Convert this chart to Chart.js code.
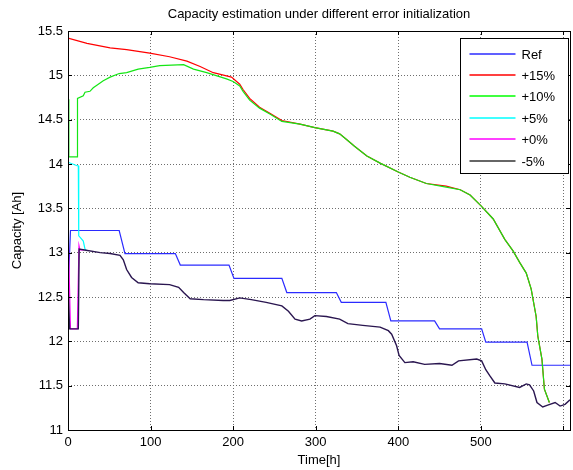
<!DOCTYPE html>
<html>
<head>
<meta charset="utf-8">
<script src="https://cdn.jsdelivr.net/npm/chart.js@4.4.1/dist/chart.umd.min.js"></script>
<style>
  html, body { margin: 0; padding: 0; background: #fff; }
  #wrap { width: 573px; height: 470px; }
</style>
</head>
<body>
<div id="wrap"><canvas id="capChart" width="573" height="470"></canvas></div>
<script>
// time axis [h] and capacity estimates [Ah] for each initialization
const refTime = [0, 3, 62, 69, 130, 136, 195, 201, 259, 265, 325, 331, 385, 391, 444, 450, 501, 506, 556, 562, 608];
const refCap  = [12.55, 13.25, 13.25, 12.99, 12.99, 12.86, 12.86, 12.71, 12.71, 12.55, 12.55, 12.44, 12.44, 12.23, 12.23, 12.14, 12.14, 11.99, 11.99, 11.73, 11.73];

const p15Time = [0, 23, 51, 71, 99, 123, 144, 160, 176, 198, 208, 212, 220, 232, 245, 259, 281, 299, 321, 329, 337, 347, 362, 378, 400, 414, 434, 458, 475, 487, 500, 515, 529, 539, 547, 555, 561, 567, 569, 574, 577, 583];
const p15Cap  = [15.42, 15.36, 15.31, 15.29, 15.25, 15.21, 15.16, 15.10, 15.03, 14.98, 14.90, 14.84, 14.74, 14.64, 14.57, 14.49, 14.45, 14.41, 14.37, 14.34, 14.28, 14.20, 14.09, 14.01, 13.91, 13.85, 13.78, 13.75, 13.71, 13.65, 13.53, 13.38, 13.15, 13.02, 12.89, 12.77, 12.59, 12.28, 12.06, 11.80, 11.46, 11.31];

const p10Time = [0, 1, 11, 11.5, 18.5, 20.6, 26.6, 30.6, 36.7, 42.7, 51, 62, 71, 85, 99, 111, 140, 152, 168, 192, 200, 208, 212, 220, 232, 245, 259, 281, 299, 321, 329, 337, 347, 362, 378, 400, 414, 434, 458, 475, 487, 500, 515, 529, 539, 547, 555, 561, 567, 569, 574, 577, 583];
const p10Cap  = [14.73, 14.08, 14.08, 14.74, 14.77, 14.81, 14.82, 14.86, 14.90, 14.94, 14.98, 15.02, 15.03, 15.07, 15.09, 15.11, 15.12, 15.07, 15.03, 14.96, 14.93, 14.88, 14.82, 14.72, 14.63, 14.56, 14.48, 14.45, 14.41, 14.37, 14.34, 14.28, 14.20, 14.09, 14.01, 13.91, 13.85, 13.78, 13.74, 13.71, 13.65, 13.53, 13.38, 13.15, 13.02, 12.89, 12.77, 12.59, 12.28, 12.06, 11.80, 11.46, 11.31];

const p5Time = [0, 11, 12.5, 13, 15, 18.5, 20.6, 22];
const p5Cap  = [14.02, 13.98, 13.98, 13.19, 13.17, 13.13, 13.04, 13.03];

const p0Time = [0, 3, 11.3, 13.3, 14.5, 20];
const p0Cap  = [13.32, 12.14, 12.14, 13.08, 13.03, 13.03];

const m5Time = [0, 2, 12.5, 13.5, 20, 39, 51, 63, 67, 71, 77, 85, 99, 123, 134, 140, 148, 164, 188, 196, 208, 222, 240, 259, 267, 275, 283, 293, 299, 313, 329, 339, 357, 378, 388, 392, 398, 401, 408, 418, 432, 450, 465, 473, 495, 501, 506, 511, 517, 529, 547, 555, 559, 564, 568, 575, 581, 590, 596, 602, 608];
const m5Cap  = [12.65, 12.14, 12.14, 13.04, 13.03, 13.00, 12.99, 12.97, 12.92, 12.81, 12.72, 12.66, 12.65, 12.64, 12.61, 12.55, 12.48, 12.47, 12.46, 12.46, 12.49, 12.47, 12.44, 12.40, 12.34, 12.25, 12.23, 12.25, 12.29, 12.28, 12.25, 12.20, 12.18, 12.16, 12.12, 12.08, 11.95, 11.84, 11.76, 11.77, 11.74, 11.75, 11.73, 11.78, 11.80, 11.78, 11.68, 11.61, 11.53, 11.52, 11.48, 11.52, 11.51, 11.44, 11.31, 11.26, 11.28, 11.31, 11.27, 11.29, 11.34];

const seriesNames = ["Ref", "+15%", "+10%", "+5%", "+0%", "-5%"];
const xTickValues = [0, 100, 200, 300, 400, 500, 600];
const xTickLabels = ["0", "100", "200", "300", "400", "500", ""];
const yTickValues = [11, 11.5, 12, 12.5, 13, 13.5, 14, 14.5, 15, 15.5];

const FONT = "'Liberation Sans', Arial, sans-serif";
const colors = ["#2b2bff", "#ff0000", "#14e614", "#00ffff", "#ff00ff", "#2a1650"];
const widths = [1.2, 1.2, 1.2, 1.2, 1.2, 1.4];
const legendColors = ["#2b2bff", "#ff0000", "#00ff00", "#00ffff", "#ff00ff", "#333333"];

const toPoints = (t, v) => t.map((x, i) => ({ x: x, y: v[i] }));
const allSeries = [
  toPoints(refTime, refCap),
  toPoints(p15Time, p15Cap),
  toPoints(p10Time, p10Cap),
  toPoints(p5Time, p5Cap),
  toPoints(p0Time, p0Cap),
  toPoints(m5Time, m5Cap)
];

// box, inward ticks and the legend, drawn on top like a matlab axes
const framePlugin = {
  id: "frame",
  afterDatasetsDraw(chart) {
    const { ctx, chartArea: a, scales } = chart;
    ctx.save();
    ctx.strokeStyle = "#000";
    ctx.lineWidth = 1;
    ctx.strokeRect(Math.round(a.left) + 0.5, Math.round(a.top) + 0.5,
      Math.round(a.right - a.left), Math.round(a.bottom - a.top));

    const tl = 4;
    ctx.beginPath();
    scales.x.ticks.forEach(t => {
      const px = Math.round(scales.x.getPixelForValue(t.value)) + 0.5;
      ctx.moveTo(px, a.bottom); ctx.lineTo(px, a.bottom - tl);
      ctx.moveTo(px, a.top); ctx.lineTo(px, a.top + tl);
    });
    scales.y.ticks.forEach(t => {
      const py = Math.round(scales.y.getPixelForValue(t.value)) + 0.5;
      ctx.moveTo(a.left, py); ctx.lineTo(a.left + tl, py);
      ctx.moveTo(a.right, py); ctx.lineTo(a.right - tl, py);
    });
    ctx.stroke();

    // legend box
    const bw = 108, bh = 135;
    const bx = Math.round(a.right - 2 - bw) + 0.5;
    const by = Math.round(a.top + 7) + 0.5;
    ctx.fillStyle = "#fff";
    ctx.fillRect(bx, by, bw, bh);
    ctx.strokeStyle = "#000";
    ctx.strokeRect(bx, by, bw, bh);
    ctx.font = "13px " + FONT;
    ctx.textBaseline = "middle";
    ctx.textAlign = "left";
    chart.data.datasets.forEach((ds, i) => {
      const ry = Math.round(by + 15 + i * 21.4);
      ctx.strokeStyle = legendColors[i];
      ctx.lineWidth = 1.3;
      ctx.beginPath();
      ctx.moveTo(bx + 9, ry);
      ctx.lineTo(bx + 55, ry);
      ctx.stroke();
      ctx.fillStyle = "#000";
      ctx.fillText(ds.label, bx + 61, ry + 1);
    });
    ctx.restore();
  }
};

const ctx = document.getElementById("capChart").getContext("2d");
new Chart(ctx, {
  type: "line",
  data: {
    datasets: allSeries.map((pts, i) => ({
      label: seriesNames[i],
      data: pts,
      xAxisID: "x",
      yAxisID: "y",
      borderColor: colors[i],
      backgroundColor: colors[i],
      borderWidth: widths[i],
      pointRadius: 0,
      tension: 0,
      fill: false,
      order: allSeries.length - i
    }))
  },
  options: {
    responsive: false,
    animation: false,
    events: [],
    layout: { padding: { left: 0, right: 3, top: 0, bottom: 0 } },
    plugins: {
      legend: { display: false },
      tooltip: { enabled: false },
      title: { display: false }
    },
    scales: {
      x: {
        type: "linear",
        position: "bottom",
        min: 0,
        max: 608,
        afterBuildTicks: s => { s.ticks = xTickValues.map(v => ({ value: v })); },
        ticks: {
          autoSkip: false,
          maxRotation: 0,
          color: "#000",
          font: { family: FONT, size: 13 },
          padding: 5,
          callback: (v, i) => xTickLabels[i]
        },
        grid: { color: "#6e6e6e", lineWidth: 1, drawTicks: false },
        border: { display: false, dash: [1, 2] },
        title: {
          display: true,
          text: "Time[h]",
          color: "#000",
          font: { family: FONT, size: 13 },
          padding: { top: 0, bottom: 2 }
        },
        afterFit: s => { s.height = 40; }
      },
      y: {
        type: "linear",
        position: "left",
        min: 11,
        max: 15.5,
        afterBuildTicks: s => { s.ticks = yTickValues.map(v => ({ value: v })); },
        ticks: {
          autoSkip: false,
          color: "#000",
          font: { family: FONT, size: 13 },
          padding: 5,
          callback: v => String(v)
        },
        grid: { color: "#6e6e6e", lineWidth: 1, drawTicks: false },
        border: { display: false, dash: [1, 2] },
        title: {
          display: true,
          text: "Capacity [Ah]",
          color: "#000",
          font: { family: FONT, size: 13 },
          padding: { top: 10, bottom: 0 }
        },
        afterFit: s => { s.width = 68; }
      },
      top: {
        type: "linear",
        axis: "x",
        position: "top",
        min: 0,
        max: 1,
        ticks: { display: false },
        grid: { display: false, drawTicks: false },
        border: { display: false },
        title: {
          display: true,
          text: "Capacity estimation under different error initialization",
          color: "#000",
          font: { family: FONT, size: 13 },
          padding: { top: 7, bottom: 8 }
        },
        afterFit: s => { s.height = 31; }
      }
    }
  },
  plugins: [framePlugin]
});
</script>
</body>
</html>
